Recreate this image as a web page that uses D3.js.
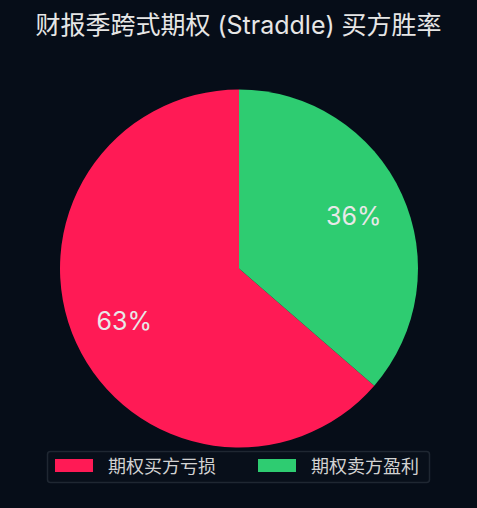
<!DOCTYPE html>
<html>
<head>
<meta charset="utf-8">
<script src="https://cdn.jsdelivr.net/npm/d3@7"></script>
<style>
  html, body { margin: 0; padding: 0; background: #060d18; }
  svg { display: block; }
  text { font-family: Inter, "Noto Sans CJK SC", sans-serif; }
</style>
</head>
<body>
<div id="main"></div>
<script>
// chart data
const categories = ["期权买方亏损", "期权卖方盈利"];
const values = [63, 36];
const colors = ["#ff1a55", "#2ecc71"];
const title = "财报季跨式期权 (Straddle) 买方胜率";

const ctx = { w: 477, h: 508, cx: 239, cy: 268.5, r: 179 };

function createViz() {
    let svgEl = d3.select("#main").append("svg")
        .attr("width", ctx.w)
        .attr("height", ctx.h);
    svgEl.append("rect").attr("width", ctx.w).attr("height", ctx.h).attr("fill", "#060d18");

    // title
    svgEl.append("text")
        .attr("x", ctx.w / 2)
        .attr("y", 34)
        .attr("text-anchor", "middle")
        .attr("fill", "#e6e6e6")
        .style("font-size", "25px")
        .text(title);

    // pie, counter-clockwise from the top
    let data = categories.map((c, i) => ({ name: c, value: values[i], color: colors[i] }));
    let pie = d3.pie().sort(null).value(d => d.value)
        .startAngle(0).endAngle(-2 * Math.PI);
    let arc = d3.arc().innerRadius(0).outerRadius(ctx.r);
    let labelArc = d3.arc().innerRadius(ctx.r * 0.705).outerRadius(ctx.r * 0.705);

    let pieG = svgEl.append("g").attr("transform", `translate(${ctx.cx},${ctx.cy})`);
    let arcs = pie(data);
    pieG.selectAll("path").data(arcs).enter().append("path")
        .attr("d", arc)
        .attr("fill", d => d.data.color);
    pieG.selectAll("text").data(arcs).enter().append("text")
        .attr("transform", d => `translate(${labelArc.centroid(d)})`)
        .attr("text-anchor", "middle")
        .attr("dy", "0.35em")
        .attr("fill", "#e8e8e8")
        .style("font-size", "25px")
        .text(d => d.data.value + "%");

    // legend
    let legG = svgEl.append("g");
    legG.append("rect")
        .attr("x", 47.5).attr("y", 451.5)
        .attr("width", 382).attr("height", 31)
        .attr("rx", 3)
        .attr("fill", "#080f1a")
        .attr("stroke", "#1f2732")
        .attr("stroke-width", 1.5);
    let legX = d3.scaleOrdinal().domain(categories).range([55, 258]);
    let items = legG.selectAll("g.item").data(data).enter().append("g")
        .attr("transform", d => `translate(${legX(d.name)},0)`);
    items.append("rect")
        .attr("x", 0).attr("y", 459)
        .attr("width", 38).attr("height", 13)
        .attr("fill", d => d.color);
    items.append("text")
        .attr("x", 53).attr("y", 473)
        .attr("fill", "#d2d2d2")
        .style("font-size", "18px")
        .text(d => d.name);
}

createViz();
</script>
</body>
</html>
